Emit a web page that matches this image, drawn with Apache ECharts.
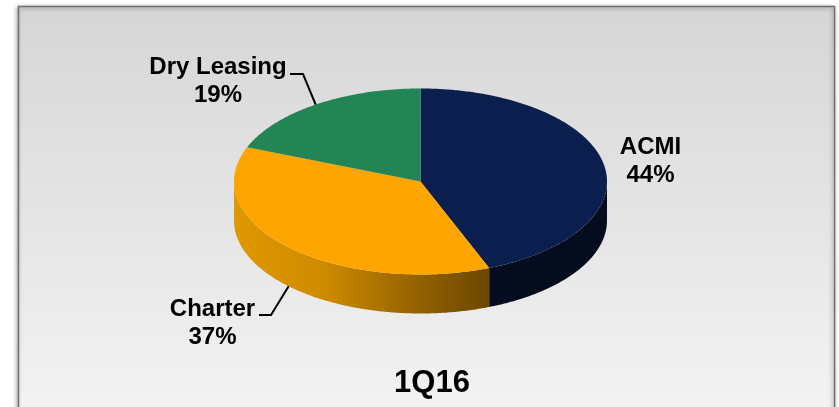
<!DOCTYPE html>
<html>
<head>
<meta charset="utf-8">
<style>html,body{margin:0;padding:0;background:#fff}#chart{width:839px;height:407px}</style>
<script src="https://cdn.jsdelivr.net/npm/echarts@6/dist/echarts.min.js"></script>
</head>
<body>
<div id="chart"></div>
<script>
// Revenue mix for the quarter
const categories = ['ACMI', 'Charter', 'Dry Leasing'];
const shares = [44, 37, 19];
const periodLabel = '1Q16';

const topColors = ['#0a1f4d', '#ffa500', '#238456'];
const FONT = '"Liberation Sans", Arial, sans-serif';

// Tilted disc geometry
const disc = { cx: 420.5, cy: 181.5, rx: 186.5, ry: 93, depth: 39 };

// Label placement per slice; a null leader means no connector
const labelBoxes = [
  { x: 650.5, y: 133, leader: null },
  { x: 212.5, y: 295, leader: [[259, 315], [271, 315]] },
  { x: 218, y: 53, leader: [[290, 74], [303, 74]] }
];

const total = shares.reduce((a, b) => a + b, 0);
const starts = [];
shares.reduce((acc, v, i) => { starts[i] = acc; return acc + v; }, 0);

// Angle is measured clockwise from twelve o'clock
const toAngle = v => (v / total) * Math.PI * 2;
const rimPoint = (t, drop) => [
  disc.cx + disc.rx * Math.sin(t),
  disc.cy - disc.ry * Math.cos(t) + (drop || 0)
];

function arcPoints(a, b, drop) {
  const steps = Math.max(2, Math.ceil(Math.abs(b - a) / 0.01));
  const pts = [];
  for (let i = 0; i <= steps; i++) pts.push(rimPoint(a + (b - a) * i / steps, drop));
  return pts;
}

function sideFill(i) {
  if (i === 0) return '#040c1e';
  // Charter's wall darkens from the left edge toward the ACMI seam
  return {
    type: 'linear', x: 0, y: 0, x2: 1, y2: 0,
    colorStops: [
      { offset: 0, color: '#e09800' },
      { offset: 0.35, color: '#cf8b00' },
      { offset: 0.75, color: '#8e5f00' },
      { offset: 1, color: '#6c4700' }
    ]
  };
}

function renderSlice(params, api) {
  const i = params.dataIndex;
  const a = toAngle(starts[i]);
  const b = toAngle(starts[i] + shares[i]);
  const children = [];

  // Visible wall: only the part of the rim on the near half of the disc
  const wallFrom = Math.max(a, Math.PI / 2);
  const wallTo = Math.min(b, Math.PI * 1.5);
  if (wallTo > wallFrom) {
    const pts = arcPoints(wallFrom, wallTo, 0).concat(arcPoints(wallTo, wallFrom, disc.depth));
    children.push({ type: 'polygon', shape: { points: pts }, style: { fill: sideFill(i) } });
  }

  // Top face
  const top = [[disc.cx, disc.cy]].concat(arcPoints(a, b, 0));
  children.push({ type: 'polygon', shape: { points: top }, style: { fill: topColors[i] } });

  return { type: 'group', children };
}

function renderLabel(params, api) {
  const i = params.dataIndex;
  const box = labelBoxes[i];
  const children = [];
  if (box.leader) {
    const mid = toAngle(starts[i] + shares[i] / 2);
    // Leader ends on the outer rim at the middle of the slice
    const onWall = Math.cos(mid) < 0;
    const end = rimPoint(mid, onWall ? disc.depth : 0);
    children.push({
      type: 'polyline',
      shape: { points: box.leader.concat([end]) },
      style: { stroke: '#000', lineWidth: 2, fill: 'none' }
    });
  }
  children.push({
    type: 'text',
    style: {
      x: box.x, y: box.y, text: categories[i] + '\n' + shares[i] + '%',
      fill: '#000', font: 'bold 24px ' + FONT, align: 'center', verticalAlign: 'top', lineHeight: 28
    }
  });
  return { type: 'group', children };
}

const chart = echarts.init(document.getElementById('chart'), null, { renderer: 'canvas' });
chart.setOption({
  animation: false,
  backgroundColor: '#fff',
  graphic: [{
    type: 'rect', z: -10,
    shape: { x: 18.5, y: 6.5, width: 816, height: 420 },
    style: {
      fill: {
        type: 'linear', x: 0, y: 0, x2: 0, y2: 1,
        colorStops: [{ offset: 0, color: '#d6d6d6' }, { offset: 1, color: '#f4f4f4' }]
      },
      stroke: '#6f6f6f', lineWidth: 1.4,
      shadowColor: 'rgba(0,0,0,0.4)', shadowBlur: 4, shadowOffsetX: -1, shadowOffsetY: 1
    }
  }],
  title: {
    text: periodLabel, left: 427, top: 363, textAlign: 'center',
    textStyle: { fontFamily: FONT, fontWeight: 'bold', fontSize: 31, color: '#000' }
  },
  series: [
    {
      type: 'custom', coordinateSystem: 'none', silent: true, z: 2,
      data: shares, renderItem: renderSlice
    },
    {
      type: 'custom', coordinateSystem: 'none', silent: true, z: 3,
      data: shares, renderItem: renderLabel
    }
  ]
});
</script>
</body>
</html>
